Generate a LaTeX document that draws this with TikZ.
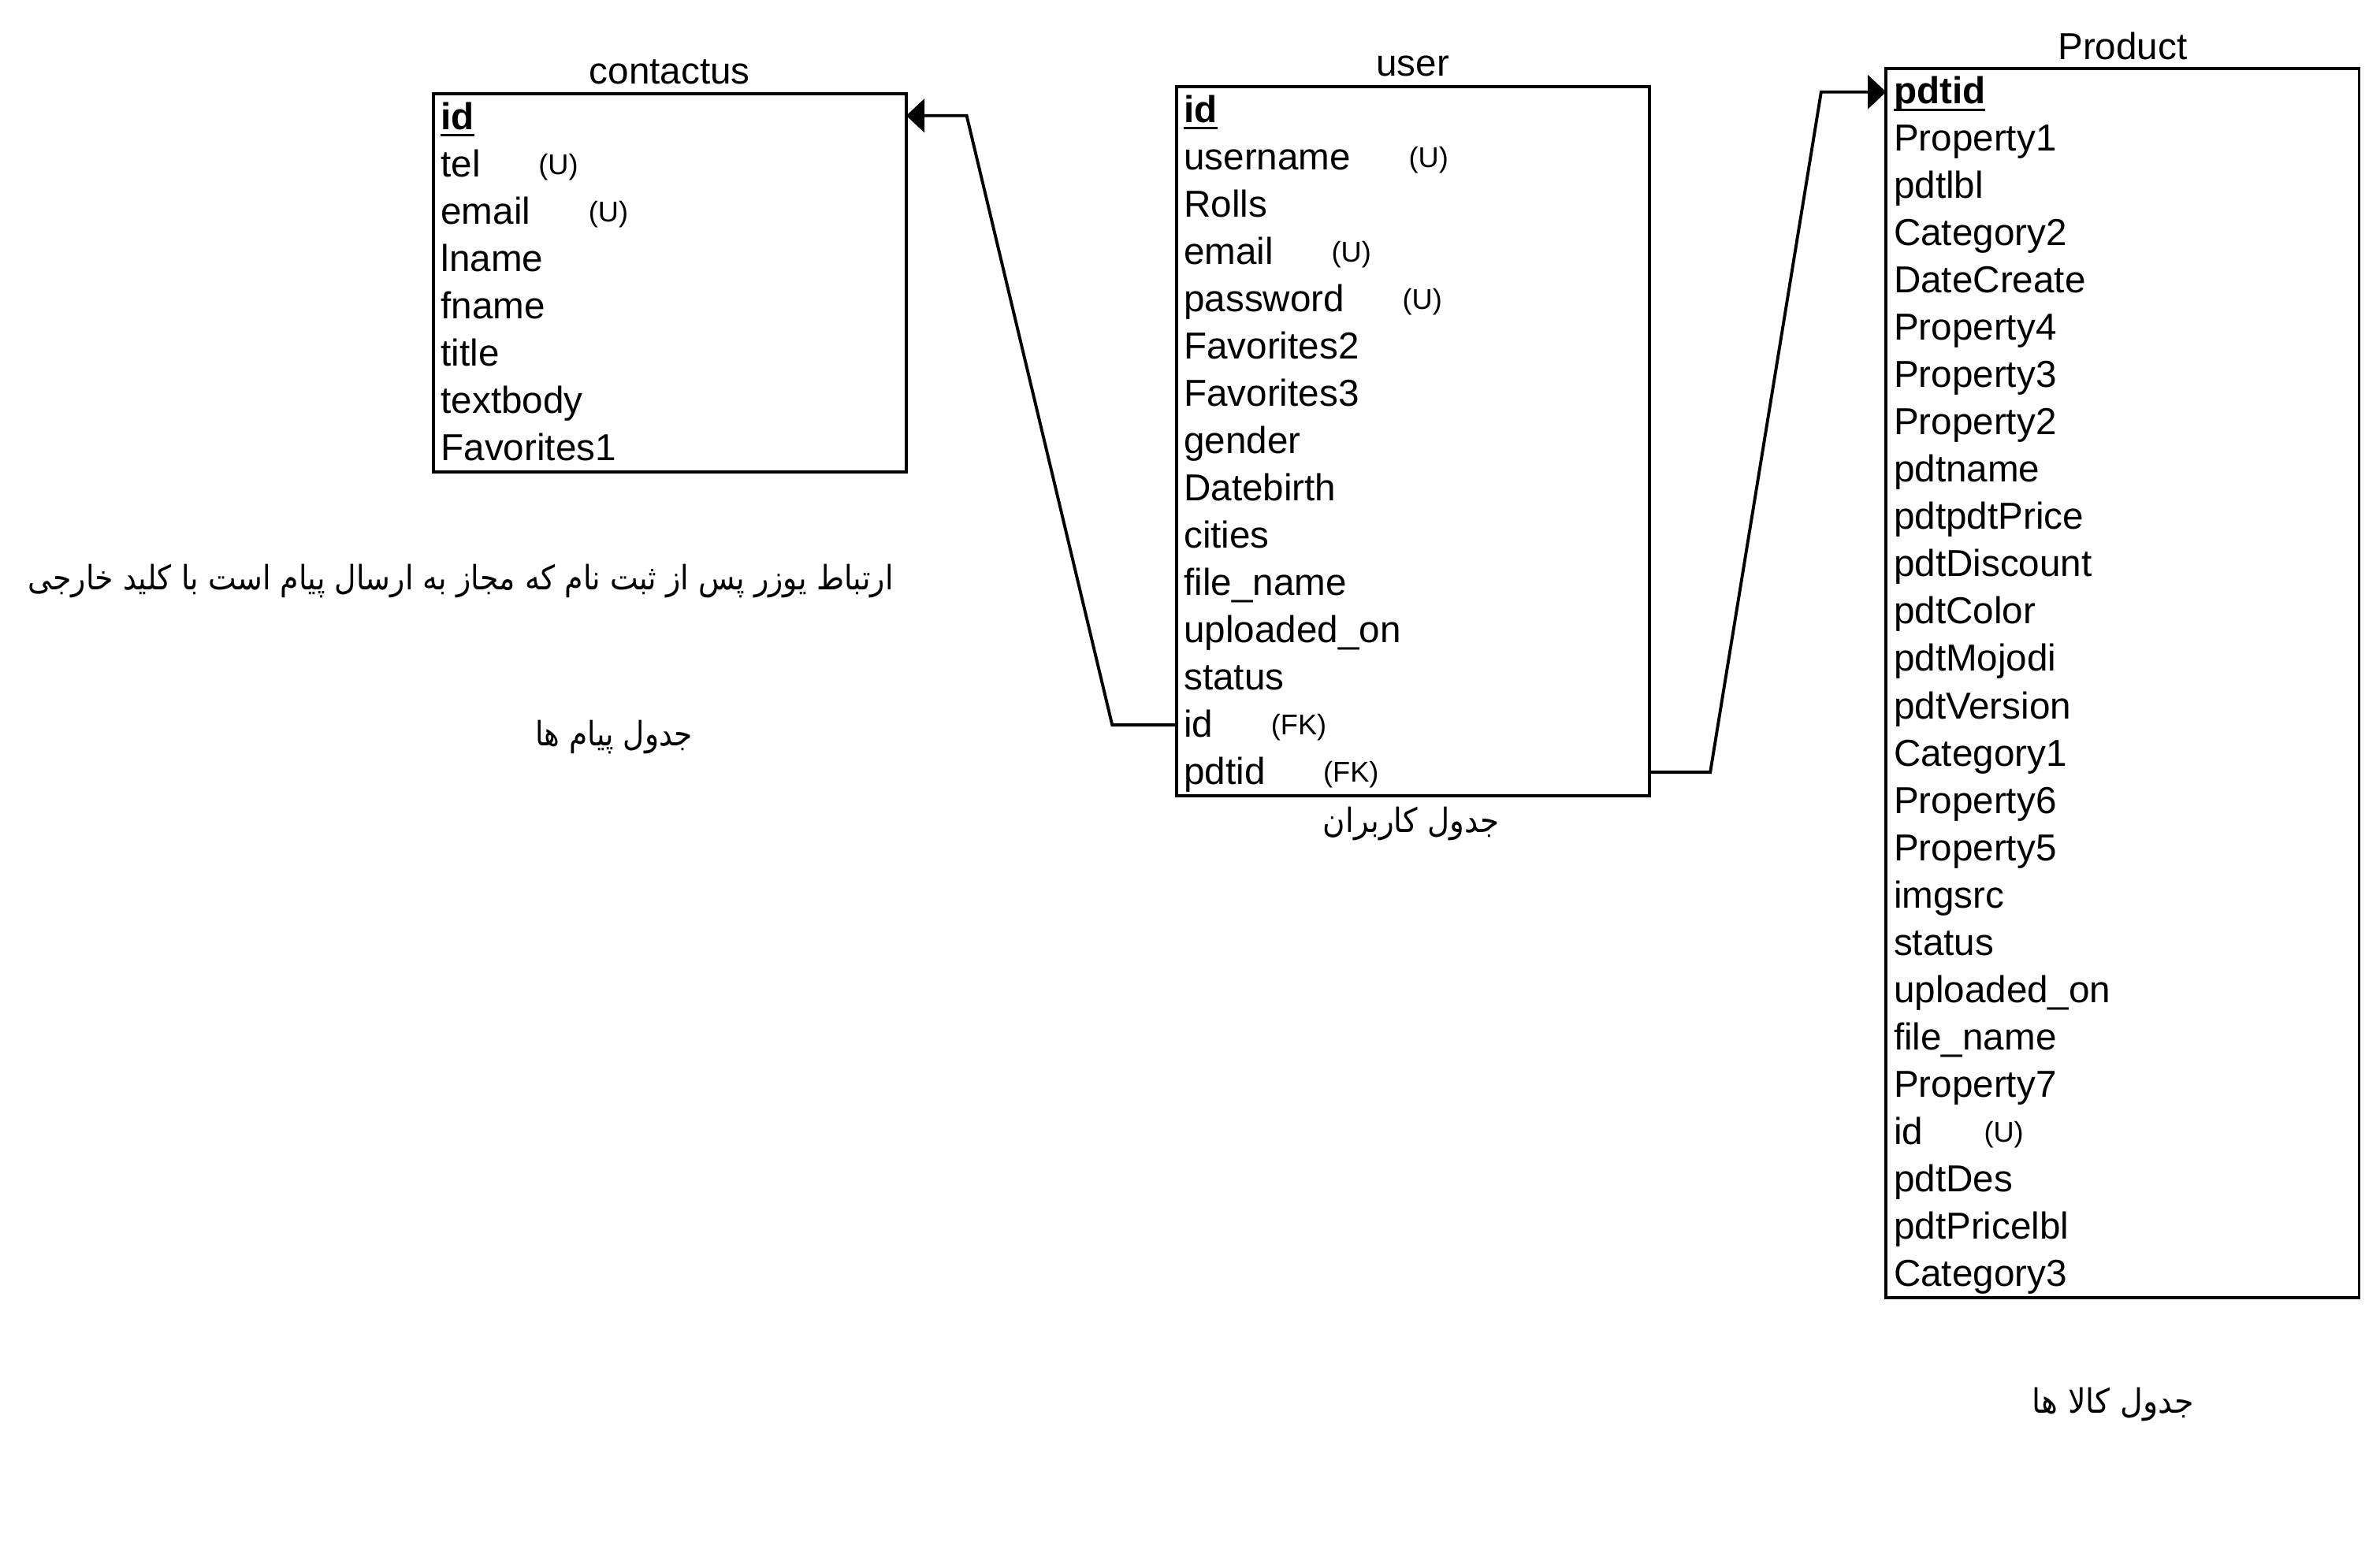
\documentclass[tikz,border=0pt]{standalone}
\usepackage{fontspec}
\setmainfont{Liberation Sans}
\newfontfamily\arabicfont[Script=Arabic]{DejaVu Sans}
\TeXXeTstate=1
\usetikzlibrary{arrows.meta,calc}
\tikzset{
  tbl/.style={draw, line width=1pt, inner sep=0pt, outer sep=0pt, minimum width=155pt, anchor=north west},
  fld/.style={inner sep=0pt, outer sep=0pt, anchor=west, text height=7.8pt, text depth=0pt, font=\fontsize{12.3}{14}\selectfont},
  pk/.style={fld, font=\fontsize{12.3}{14}\selectfont\bfseries},
  note/.style={inner sep=0pt, outer sep=0pt, anchor=base west, font=\fontsize{9.35}{11}\selectfont},
  ttl/.style={inner sep=0pt, font=\fontsize{12.3}{14}\selectfont},
  fa/.style={inner sep=0pt, font=\arabicfont\fontsize{11}{13}\selectfont},
  conn/.style={line width=1pt, -{Triangle[length=6pt,width=11pt]}},
  uline/.style={line width=0.75pt},
}
\begin{document}
\begin{tikzpicture}[x=0.5pt,y=-0.5pt]
\useasboundingbox[fill=white] (0,0) rectangle (1560,1025.35);

% ---------- tables ----------
\node[tbl, minimum height=124pt] (cbox) at (284,61.5) {};
\node[tbl, minimum height=232.5pt] (ubox) at (771,56.8) {};
\node[tbl, minimum height=403pt] (pbox) at (1236.3,44.8) {};

% titles
\node[ttl] (ct) at ($(cbox.north)+(0,-14.5)$) {contactus};
\node[ttl] (ut) at ($(ubox.north)+(0,-13.5)$) {user};
\node[ttl] (pt) at ($(pbox.north)+(0,-14.5)$) {Product};

% contactus rows
\node[pk] (c0) at (289,77) {id};
\foreach \t [count=\i] in {tel,email,lname,fname,title,textbody,Favorites1}
  \node[fld] (c\i) at (289,{77+31*\i}) {\t};
\draw[uline] ($(c0.base west)+(0,4)$) -- ($(c0.base east)+(0,4)$);
\node[note] (cn1) at ($(c1.base east)+(38,-1.5)$) {(U)};
\node[note] (cn2) at ($(c2.base east)+(38,-1.5)$) {(U)};

% user rows
\node[pk] (u0) at (776,72.3) {id};
\foreach \t [count=\i] in {username,Rolls,email,password,Favorites2,Favorites3,gender,Datebirth,cities,file\_name,uploaded\_on,status,id,pdtid}
  \node[fld] (u\i) at (776,{72.3+31*\i}) {\t};
\draw[uline] ($(u0.base west)+(0,4)$) -- ($(u0.base east)+(0,4)$);
\node[note] (un1) at ($(u1.base east)+(38,-1.5)$) {(U)};
\node[note] (un3) at ($(u3.base east)+(38,-1.5)$) {(U)};
\node[note] (un4) at ($(u4.base east)+(38,-1.5)$) {(U)};
\node[note] (un13) at ($(u13.base east)+(38,-1.5)$) {(FK)};
\node[note] (un14) at ($(u14.base east)+(38,-1.5)$) {(FK)};

% product rows
\node[pk] (p0) at (1241.3,60.3) {pdtid};
\foreach \t [count=\i] in {Property1,pdtlbl,Category2,DateCreate,Property4,Property3,Property2,pdtname,pdtpdtPrice,pdtDiscount,pdtColor,pdtMojodi,pdtVersion,Category1,Property6,Property5,imgsrc,status,uploaded\_on,file\_name,Property7,id,pdtDes,pdtPricelbl,Category3}
  \node[fld] (p\i) at (1241.3,{60.3+31*\i}) {\t};
\draw[uline] ($(p0.base west)+(0,4)$) -- ($(p0.base east)+(0,4)$);
\node[note] (pn22) at ($(p22.base east)+(40,-1.5)$) {(U)};

% ---------- connectors ----------
\draw[conn] (ubox.west |- u13.west) -- ++(-42,0)
  -- ($(cbox.east |- c0.west)+(39.6,-1.2)$) -- ($(cbox.east |- c0.west)+(0,-1.2)$);
\draw[conn] (ubox.east |- u14.west) -- ++(40,0)
  -- ($(pbox.west |- p0.west)+(-42.6,0)$) -- (pbox.west |- p0.west);

% ---------- Persian captions ----------
\node[fa] (msg) at (302,381) {\scalebox{0.89}[1]{\beginR ارتباط یوزر پس از ثبت نام که مجاز به ارسال پیام است با کلید خارجی\endR}};
\node[fa] (cap1) at (402.5,483) {\scalebox{0.88}[1]{\beginR جدول پیام ها\endR}};
\node[fa] (cap2) at (925,540) {\scalebox{0.91}[1]{\beginR جدول کاربران\endR}};
\node[fa] (cap3) at (1385,921) {\scalebox{0.93}[1]{\beginR جدول کالا ها\endR}};
\end{tikzpicture}
\end{document}
